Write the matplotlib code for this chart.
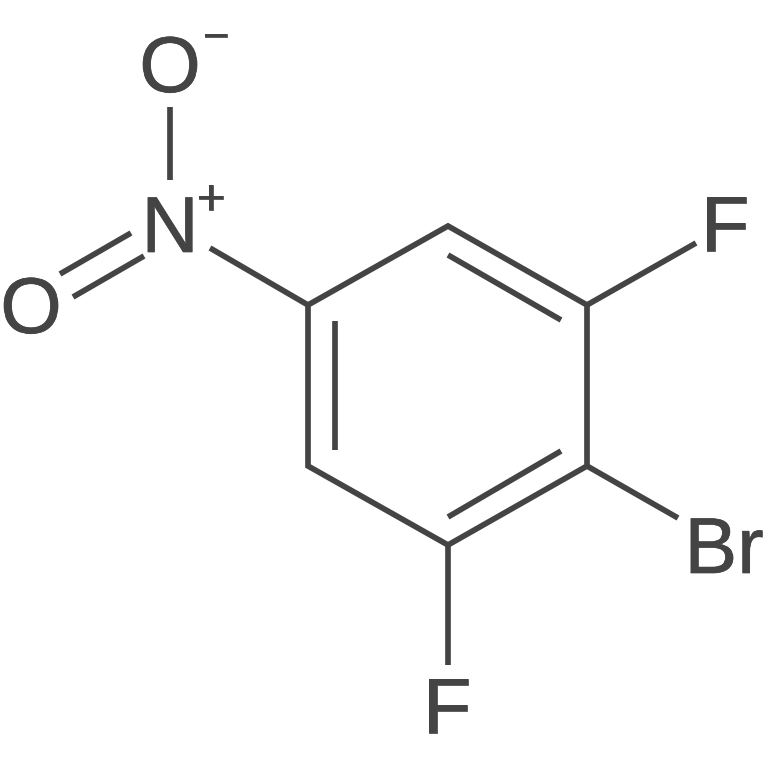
import matplotlib
matplotlib.use('Agg')
import matplotlib.pyplot as plt
import matplotlib.patheffects as pe

plt.rcParams['font.family'] = ['Liberation Sans', 'DejaVu Sans']

col = '#444444'

# ring outline, in picture pixels
ring_x = [308, 448, 587, 587, 448, 308]
ring_y = [305, 226, 305, 466, 545, 466]

# other bonds
bond_x = [[448, 561], [561, 448], [335, 335],
          [587, 696], [587, 678], [448, 448],
          [308, 210], [170, 170], [131, 60], [144, 73]]
bond_y = [[255, 320], [451, 517], [321, 450],
          [305, 243], [466, 518], [545, 665],
          [305, 248], [180, 107], [233, 274], [256, 297]]

labels = ['O', '\u2212', 'N', '+', 'O', 'F', 'Br', 'F']
label_x = [170, 216, 170, 211, 31, 725, 724, 447]
label_y = [63, 34, 223, 196, 304, 222, 544, 704]
label_size = [57, 32, 57, 36, 57, 57, 57, 57]

fig = plt.figure(figsize=(7.68, 7.68), dpi=100)
ax = fig.add_axes([0, 0, 1, 1])
ax.set_xlim(0, 768)
ax.set_ylim(768, 0)
ax.axis('off')

ax.fill(ring_x, ring_y, fill=False, edgecolor=col, linewidth=4.1, joinstyle='miter')

for x, y in zip(bond_x, bond_y):
    ax.plot(x, y, color=col, linewidth=4.1, solid_capstyle='butt')

for t, x, y, s in zip(labels, label_x, label_y, label_size):
    txt = ax.text(x, y, t, color=col, fontsize=s, ha='center', va='center_baseline')
    txt.set_path_effects([pe.withStroke(linewidth=0.5, foreground=col)])

fig.savefig('out.png', dpi=100)
